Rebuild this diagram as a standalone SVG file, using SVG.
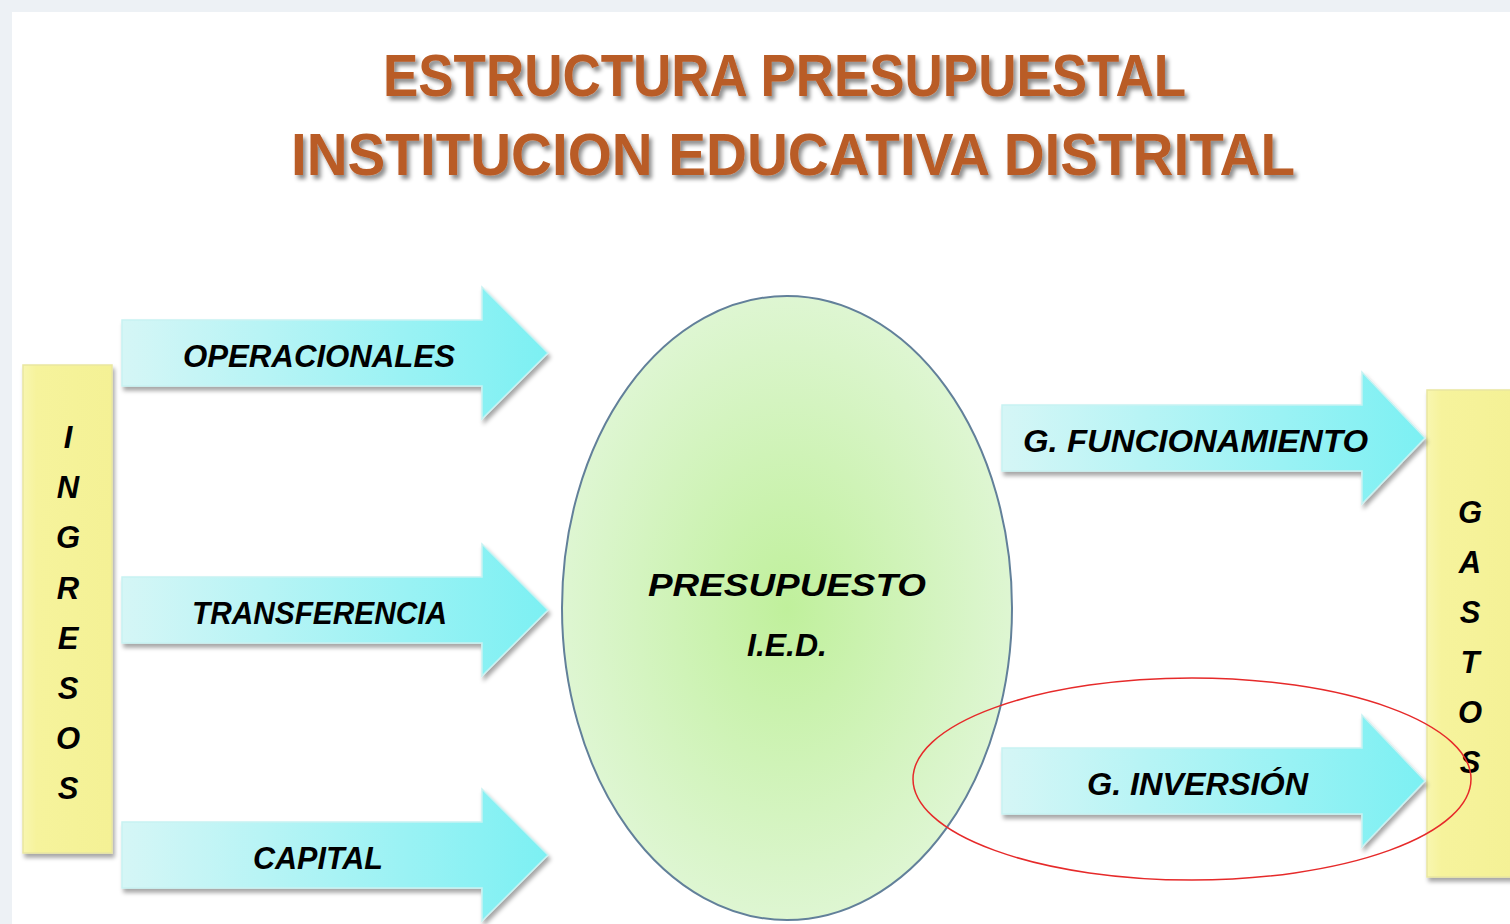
<svg xmlns="http://www.w3.org/2000/svg" width="1510" height="924" viewBox="0 0 1510 924">
<style>
.title{font-family:"Liberation Sans",Arial,sans-serif;font-weight:bold;fill:#B95B26;font-size:60px}
.lbl{font-family:"Liberation Sans",Arial,sans-serif;font-weight:bold;font-style:italic;fill:#000;font-size:32px}
.vl{font-family:"Liberation Sans",Arial,sans-serif;font-weight:bold;font-style:italic;fill:#000;font-size:31px;text-anchor:middle}
.arrow{fill:url(#cyan);stroke:#C8F2F2;stroke-width:1.5;filter:url(#sh)}
.bar{fill:url(#yel);stroke:#E9E6A0;stroke-width:1.5;filter:url(#sh)}
</style>
<defs>
<linearGradient id="cyan" x1="0" y1="0" x2="1" y2="0">
<stop offset="0" stop-color="#D5F6F6"/>
<stop offset="1" stop-color="#7CF0F3"/>
</linearGradient>
<linearGradient id="yel" x1="0" y1="0" x2="1" y2="0">
<stop offset="0" stop-color="#F8F6B0"/>
<stop offset="0.15" stop-color="#F6F39C"/>
<stop offset="1" stop-color="#F4F195"/>
</linearGradient>
<radialGradient id="grn" cx="0.5" cy="0.5" r="0.5">
<stop offset="0" stop-color="#C0F09C"/>
<stop offset="1" stop-color="#DEF6D2"/>
</radialGradient>
<filter id="sh" x="-10%" y="-10%" width="130%" height="130%">
<feDropShadow dx="2" dy="4" stdDeviation="2" flood-color="#000" flood-opacity="0.35"/>
</filter>
<filter id="tsh" x="-5%" y="-20%" width="110%" height="150%">
<feDropShadow dx="3" dy="4" stdDeviation="2" flood-color="#000" flood-opacity="0.45"/>
</filter>
</defs>
<rect x="0" y="0" width="1510" height="924" fill="#EDF1F5"/>
<rect x="12" y="12" width="1498" height="912" fill="#FFFFFF"/>

<g id="title" filter="url(#tsh)">
<text class="title" x="383" y="96" textLength="803" lengthAdjust="spacingAndGlyphs">ESTRUCTURA PRESUPUESTAL</text>
<text class="title" x="291" y="175" textLength="1004" lengthAdjust="spacingAndGlyphs">INSTITUCION EDUCATIVA DISTRITAL</text>
</g>

<g id="ingresos">
<rect class="bar" x="23" y="365" width="89" height="488"/>
<text class="vl" x="68" y="448">I</text>
<text class="vl" x="68" y="498">N</text>
<text class="vl" x="68" y="548">G</text>
<text class="vl" x="68" y="599">R</text>
<text class="vl" x="68" y="649">E</text>
<text class="vl" x="68" y="699">S</text>
<text class="vl" x="68" y="749">O</text>
<text class="vl" x="68" y="799">S</text>
</g>

<g id="gastos">
<rect class="bar" x="1427" y="390" width="95" height="487"/>
<text class="vl" x="1470" y="523">G</text>
<text class="vl" x="1470" y="573">A</text>
<text class="vl" x="1470" y="623">S</text>
<text class="vl" x="1470" y="673">T</text>
<text class="vl" x="1470" y="723">O</text>
<text class="vl" x="1470" y="773">S</text>
</g>

<g id="connectors">
<g id="operacionales">
<path class="arrow" d="M122,320 H482 V287 L548,353 L482,419 V386 H122 Z"/>
<text class="lbl" x="183" y="367" textLength="272" lengthAdjust="spacingAndGlyphs">OPERACIONALES</text>
</g>
<g id="transferencia">
<path class="arrow" d="M122,577 H482 V544 L548,610 L482,676 V643 H122 Z"/>
<text class="lbl" x="192" y="624" textLength="255" lengthAdjust="spacingAndGlyphs">TRANSFERENCIA</text>
</g>
<g id="capital">
<path class="arrow" d="M122,822 H482 V789 L548,855 L482,921 V888 H122 Z"/>
<text class="lbl" x="253" y="869" textLength="130" lengthAdjust="spacingAndGlyphs">CAPITAL</text>
</g>
<g id="funcionamiento">
<path class="arrow" d="M1002,405 H1362 V372 L1425,438 L1362,504 V471 H1002 Z"/>
<text class="lbl" x="1023" y="452" textLength="345" lengthAdjust="spacingAndGlyphs">G. FUNCIONAMIENTO</text>
</g>
<g id="inversion">
<path class="arrow" d="M1002,748 H1362 V715 L1425,781 L1362,847 V814 H1002 Z"/>
<text class="lbl" x="1087" y="795" textLength="221" lengthAdjust="spacingAndGlyphs">G. INVERSIÓN</text>
</g>
</g>

<g id="presupuesto">
<ellipse cx="787" cy="608" rx="225" ry="312" fill="url(#grn)" stroke="#62809A" stroke-width="2"/>
<text class="lbl" x="787" y="596" text-anchor="middle" font-size="37" textLength="278" lengthAdjust="spacingAndGlyphs">PRESUPUESTO</text>
<text class="lbl" x="787" y="656" text-anchor="middle" font-size="37">I.E.D.</text>
</g>

<g id="highlight">
<ellipse cx="1192" cy="779" rx="279" ry="101" fill="none" stroke="#E62A2A" stroke-width="1.5"/>
</g>
</svg>
